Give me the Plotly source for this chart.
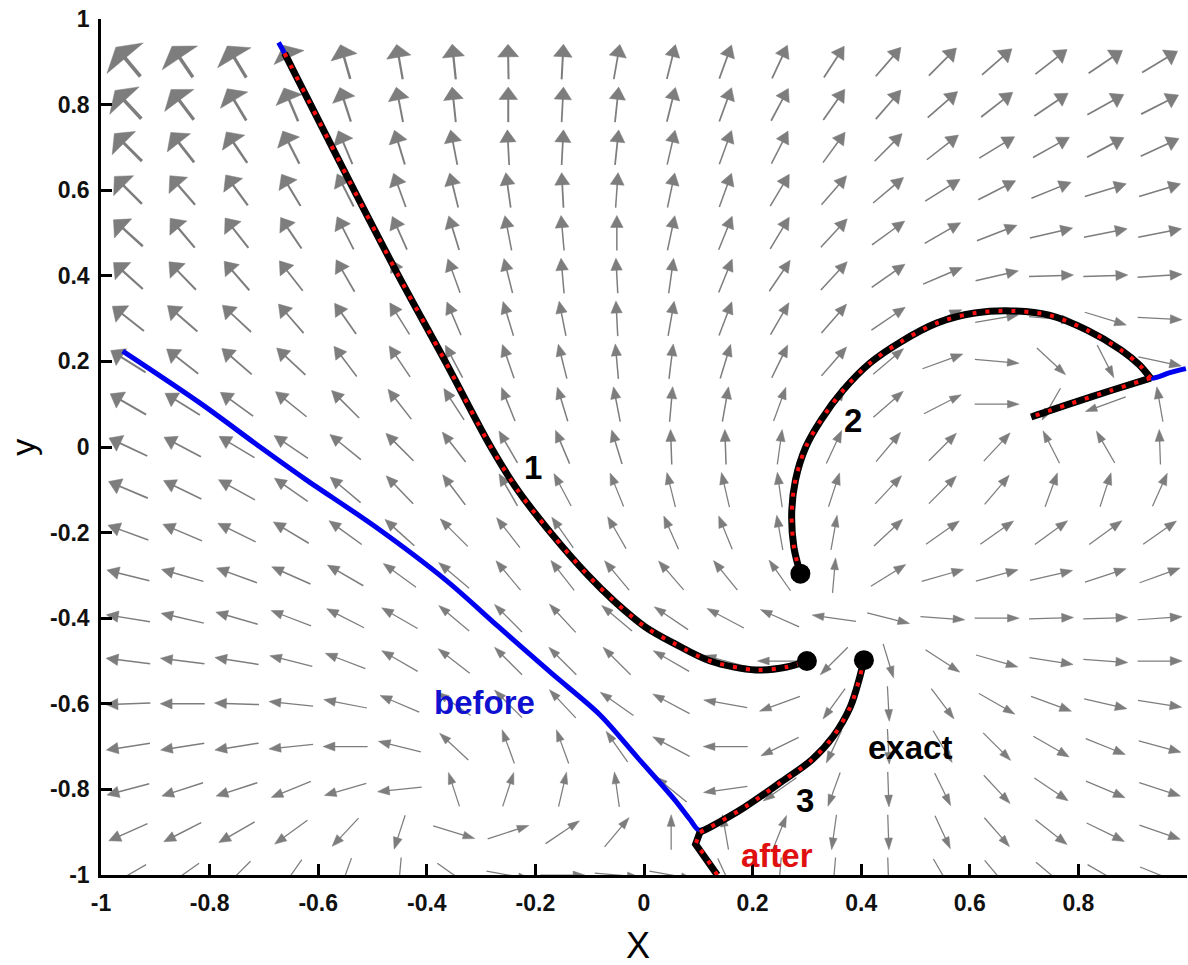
import numpy as np
import plotly.graph_objects as go

# ---------------- data ----------------
# vector-field grid (arrow centres)
x_centers = [-0.95, -0.85, -0.75, -0.65, -0.55, -0.45, -0.35, -0.25, -0.15, -0.05,
             0.05, 0.15, 0.25, 0.35, 0.45, 0.55, 0.65, 0.75, 0.85, 0.95]
y_centers = [0.9, 0.8, 0.7, 0.6, 0.5, 0.4, 0.3, 0.2, 0.1, 0.0,
             -0.1, -0.2, -0.3, -0.4, -0.5, -0.6, -0.7, -0.8, -0.9, -1.0]

# arrow direction (degrees, as seen on the chart), one row per y_center
angle_deg = [
    [130, 124, 121, 115, 106, 100, 96, 91, 87, 80, 76, 70, 65, 57, 49, 45, 41, 38, 34, 31],
    [133, 127, 121, 113, 108, 101, 96, 90, 87, 84, 76, 70, 62, 55, 49, 41, 38, 34, 29, 27],
    [135, 128, 124, 117, 113, 107, 101, 93, 87, 84, 77, 70, 63, 54, 45, 38, 31, 29, 28, 25],
    [135, 131, 126, 121, 117, 110, 104, 98, 93, 86, 78, 70, 59, 49, 40, 32, 27, 22, 17, 17],
    [138, 130, 128, 124, 117, 114, 107, 101, 95, 90, 78, 68, 59, 47, 36, 30, 21, 13, 11, 11],
    [138, 134, 131, 128, 120, 118, 110, 104, 95, 93, 82, 68, 56, 47, 35, 23, 13, 2, 2, 4],
    [142, 139, 137, 131, 125, 122, 113, 107, 101, 93, 80, 69, 60, 49, 34, 25, 10, -5, -17, -3],
    [148, 142, 139, 137, 127, 124, 118, 109, 104, 95, 83, 73, 64, 49, 40, 20, -5, -43, -63, -12],
    [150, 148, 144, 141, 135, 128, 123, 112, 107, 101, 85, 80, 70, 55, 41, 27, 0, 240, 200, 100],
    [155, 152, 149, 146, 141, 135, 128, 120, 113, 107, 92, 92, 82, 65, 50, 45, 47, 117, 120, 92],
    [157, 154, 151, 145, 140, 134, 127, 120, 118, 112, 104, 103, 98, 72, 47, 45, 50, 70, 72, 66],
    [160, 157, 154, 149, 144, 138, 135, 128, 125, 120, 114, 112, 100, 80, 43, 35, 35, 36, 36, 35],
    [166, 164, 160, 156, 150, 144, 140, 130, 128, 130, 131, 129, 125, 85, 32, 16, 15, 13, 18, 20],
    [171, 167, 164, 159, 153, 150, 140, 135, 133, 140, 146, 152, 156, 172, -14, -4, 0, 2, 2, 4],
    [173, 173, 171, 166, 159, 150, 142, 135, 135, 135, 150, 165, 180, 225, -73, -33, -16, -9, -4, 0],
    [182, 180, 178, 174, 169, 157, 145, 135, 133, 145, 152, 170, 200, 234, -87, -53, -30, -20, -13, -9],
    [189, 189, 189, 186, 180, 166, 137, 110, 110, 125, 152, 180, 206, 245, -87, -59, -45, -30, -22, -15],
    [195, 198, 198, 202, 196, 186, 108, 72, 77, 98, 141, 188, 215, 250, -88, -64, -47, -34, -23, -18],
    [204, 207, 210, 216, 227, 252, -17, 18, 34, 50, 90, 100, 68, 262, -88, -65, -49, -38, -26, -19],
    [210, 215, 225, 235, 250, 265, -35, -10, 0, -5, -10, -65, 265, 265, -88, -60, -50, -40, -30, -22],
]

# relative vector magnitude (drives arrow-head size / shaft weight)
magnitude = [
    [4.2, 3.8, 3.5, 3.0, 2.5, 2.3, 2.1, 2.0, 1.8, 1.7, 1.5, 1.5, 1.5, 1.5, 1.5, 1.6, 1.6, 1.6, 1.7, 1.7],
    [3.6, 3.3, 2.9, 2.6, 2.2, 2.0, 1.9, 1.8, 1.7, 1.6, 1.5, 1.5, 1.5, 1.5, 1.5, 1.5, 1.5, 1.5, 1.6, 1.6],
    [3.0, 2.7, 2.5, 2.3, 2.0, 1.8, 1.7, 1.6, 1.6, 1.5, 1.4, 1.4, 1.4, 1.4, 1.4, 1.4, 1.4, 1.4, 1.5, 1.5],
    [2.6, 2.3, 2.2, 2.0, 1.8, 1.7, 1.6, 1.5, 1.5, 1.4, 1.4, 1.4, 1.4, 1.3, 1.3, 1.3, 1.3, 1.3, 1.3, 1.3],
    [2.4, 2.1, 2.0, 1.8, 1.7, 1.6, 1.5, 1.4, 1.4, 1.3, 1.3, 1.3, 1.3, 1.3, 1.2, 1.2, 1.2, 1.2, 1.2, 1.2],
    [2.2, 2.0, 1.8, 1.7, 1.6, 1.4, 1.4, 1.3, 1.3, 1.2, 1.2, 1.2, 1.2, 1.2, 1.2, 1.1, 1.1, 1.1, 1.1, 1.1],
    [2.0, 1.8, 1.7, 1.6, 1.5, 1.4, 1.3, 1.2, 1.2, 1.2, 1.2, 1.2, 1.1, 1.1, 1.1, 1.1, 1.0, 1.0, 1.0, 1.0],
    [1.9, 1.7, 1.6, 1.5, 1.4, 1.3, 1.2, 1.2, 1.1, 1.1, 1.1, 1.1, 1.1, 1.1, 1.0, 1.0, 0.9, 0.9, 0.9, 1.0],
    [1.8, 1.6, 1.5, 1.4, 1.3, 1.2, 1.2, 1.1, 1.1, 1.1, 1.1, 1.1, 1.0, 1.0, 1.0, 0.9, 0.9, 0.9, 0.9, 1.0],
    [1.7, 1.5, 1.4, 1.3, 1.2, 1.2, 1.1, 1.1, 1.1, 1.1, 1.1, 1.1, 1.0, 1.0, 1.0, 1.0, 1.0, 0.9, 0.9, 1.0],
    [1.6, 1.4, 1.3, 1.2, 1.2, 1.1, 1.1, 1.1, 1.0, 1.0, 1.0, 1.0, 1.0, 1.0, 1.0, 1.0, 1.0, 1.0, 1.0, 1.0],
    [1.4, 1.3, 1.2, 1.2, 1.1, 1.1, 1.0, 1.0, 1.0, 1.0, 1.0, 1.0, 1.0, 0.9, 1.0, 1.0, 1.0, 1.0, 1.0, 1.0],
    [1.3, 1.2, 1.2, 1.1, 1.1, 1.0, 1.0, 1.0, 1.0, 1.0, 1.0, 1.0, 0.9, 0.9, 1.0, 1.0, 1.0, 1.0, 1.0, 1.0],
    [1.2, 1.1, 1.1, 1.0, 1.0, 1.0, 0.9, 0.9, 0.9, 0.9, 0.9, 0.9, 0.9, 0.9, 0.9, 0.9, 0.9, 1.0, 1.0, 1.0],
    [1.2, 1.1, 1.1, 1.0, 1.0, 1.0, 0.9, 0.9, 0.9, 0.9, 0.9, 0.9, 0.9, 0.9, 0.9, 0.9, 0.9, 1.0, 1.0, 1.0],
    [1.2, 1.1, 1.1, 1.0, 1.0, 1.0, 0.9, 0.9, 0.9, 0.9, 0.9, 0.9, 0.9, 0.9, 0.9, 0.9, 0.9, 1.0, 1.0, 1.0],
    [1.2, 1.1, 1.1, 1.0, 1.0, 1.0, 0.9, 0.9, 0.9, 0.9, 0.9, 0.9, 0.9, 0.9, 0.9, 0.9, 0.9, 1.0, 1.0, 1.0],
    [1.2, 1.1, 1.1, 1.0, 1.0, 1.0, 0.9, 0.9, 0.9, 0.9, 0.9, 0.9, 0.9, 0.9, 0.9, 0.9, 0.9, 1.0, 1.0, 1.0],
    [1.2, 1.1, 1.1, 1.0, 1.0, 1.0, 0.9, 0.9, 0.9, 0.9, 0.9, 0.9, 0.9, 0.9, 0.9, 0.9, 0.9, 1.0, 1.0, 1.0],
    [1.0, 1.0, 1.0, 0.9, 0.9, 0.9, 0.9, 0.9, 0.9, 0.9, 0.9, 0.9, 0.9, 0.9, 0.9, 0.9, 0.9, 0.9, 0.9, 0.9],
]

# trajectory 1 (exact / after)
traj1_x = [-0.662, -0.614, -0.534, -0.452, -0.366, -0.282, -0.233, -0.172, -0.103,
           -0.055, 0.002, 0.057, 0.122, 0.206, 0.263, 0.300]
traj1_y = [0.920, 0.800, 0.600, 0.400, 0.200, 0.000, -0.100, -0.200, -0.300,
           -0.360, -0.420, -0.460, -0.500, -0.521, -0.514, -0.500]
before1_x = [-0.673] + traj1_x
before1_y = [0.945] + traj1_y

# trajectory 2 (exact / after): arc, then the straight return leg
traj2_arc_x = [0.288, 0.276, 0.272, 0.279, 0.298, 0.326, 0.367, 0.416, 0.472, 0.540, 0.609,
               0.678, 0.746, 0.816, 0.878, 0.912, 0.933]
traj2_arc_y = [-0.296, -0.234, -0.154, -0.077, 0.000, 0.063, 0.133, 0.196, 0.245, 0.290, 0.313,
               0.318, 0.308, 0.273, 0.227, 0.192, 0.161]
traj2_leg_x = [0.933, 0.860, 0.780, 0.713]
traj2_leg_y = [0.161, 0.132, 0.099, 0.070]
before2_x = traj2_arc_x + [0.947, 0.967, 0.998]
before2_y = traj2_arc_y + [0.164, 0.173, 0.183]

# trajectory 3 (exact / after): short kinked start, then smooth curve
traj3_kink_x = [0.135, 0.109, 0.095, 0.103]
traj3_kink_y = [-1.000, -0.949, -0.928, -0.900]
traj3_curve_x = [0.103, 0.122, 0.186, 0.250, 0.309, 0.348, 0.380, 0.396, 0.405]
traj3_curve_y = [-0.900, -0.888, -0.841, -0.785, -0.731, -0.677, -0.607, -0.544, -0.498]
before3_x = [-0.960, -0.818, -0.707, -0.624, -0.494, -0.365, -0.267, -0.171, -0.081, -0.013,
             0.057, 0.085, 0.101] + traj3_curve_x[1:]
before3_y = [0.224, 0.103, 0.000, -0.075, -0.187, -0.311, -0.421, -0.528, -0.626, -0.724,
             -0.825, -0.871, -0.895] + traj3_curve_y[1:]

# end points
dots_x = [0.300, 0.405, 0.288]
dots_y = [-0.500, -0.498, -0.296]

tick_vals = [-1, -0.8, -0.6, -0.4, -0.2, 0, 0.2, 0.4, 0.6, 0.8, 1]
tick_text = ["-1", "-0.8", "-0.6", "-0.4", "-0.2", "0", "0.2", "0.4", "0.6", "0.8", "1"]

# ---------------- layout geometry ----------------
W, H = 1188, 965
ML, MR, MT, MB = 101, 1, 19, 90
XR = [-1, 1]
YR = [-1, 1]
px_x = (W - ML - MR) / (XR[1] - XR[0])   # pixels per x unit
px_y = (H - MT - MB) / (YR[1] - YR[0])   # pixels per y unit
ARROW_LEN = 0.082                         # drawn arrow length (data units)
GRAY = "#7d7d7d"

fig = go.Figure()

# ---------------- vector field ----------------
shaft_groups = {}
head_x, head_y = [], []
for i, yc in enumerate(y_centers):
    for j, xc in enumerate(x_centers):
        th = np.deg2rad(angle_deg[i][j])
        m = magnitude[i][j]
        ex, ey = np.cos(th), np.sin(th)            # on-screen direction
        du, dv = ex / px_x, ey / px_y
        n = np.hypot(du, dv)
        du, dv = du / n * ARROW_LEN, dv / n * ARROW_LEN
        tx, ty = xc - du / 2, yc - dv / 2
        hx, hy = xc + du / 2, yc + dv / 2
        hl = 11 + 0.8 * m            # head length (px)
        hw = (12.0 * m - 3.0) / 2    # head half width (px)
        bx = hx - ex * hl / px_x
        by = hy - ey * hl / px_y
        p1x, p1y = bx - ey * hw / px_x, by + ex * hw / px_y
        p2x, p2y = bx + ey * hw / px_x, by - ex * hw / px_y
        head_x += [hx, p1x, p2x, hx, None]
        head_y += [hy, p1y, p2y, hy, None]
        lw = round((0.5 + 0.8 * m) * 4) / 4
        sx = bx + ex * 1.5 / px_x
        sy = by + ey * 1.5 / px_y
        g = shaft_groups.setdefault(lw, ([], []))
        g[0].extend([tx, sx, None])
        g[1].extend([ty, sy, None])

for lw, (sx, sy) in sorted(shaft_groups.items()):
    fig.add_trace(go.Scatter(x=sx, y=sy, mode="lines", line=dict(color=GRAY, width=lw),
                             hoverinfo="skip", showlegend=False))
fig.add_trace(go.Scatter(x=head_x, y=head_y, mode="lines", fill="toself", fillcolor=GRAY,
                         line=dict(color=GRAY, width=0.5), hoverinfo="skip", showlegend=False))

# ---------------- trajectories ----------------
BLUE = "#0000f0"


def add_path(xs, ys, color, width, smooth, dash=None):
    line = dict(color=color, width=width)
    if smooth:
        line.update(shape="spline", smoothing=0.9)
    if dash:
        line["dash"] = dash
    fig.add_trace(go.Scatter(x=xs, y=ys, mode="lines", line=line, showlegend=False, hoverinfo="skip"))


for bx_, by_ in [(before1_x, before1_y), (before2_x, before2_y), (before3_x, before3_y)]:
    add_path(bx_, by_, BLUE, 5, True)

segments = [(traj1_x, traj1_y, True), (traj2_arc_x, traj2_arc_y, True), (traj2_leg_x, traj2_leg_y, True),
            (traj3_kink_x, traj3_kink_y, False), (traj3_curve_x, traj3_curve_y, True)]
for xs, ys, sm in segments:
    add_path(xs, ys, "black", 7, sm)
for xs, ys, sm in segments:
    add_path(xs, ys, "#ff1010", 4, sm, dash="4px,9px")

fig.add_trace(go.Scatter(x=dots_x, y=dots_y, mode="markers",
                         marker=dict(color="black", size=20), showlegend=False, hoverinfo="skip"))

# ---------------- labels ----------------
LBL = "Liberation Sans, Arial, Helvetica, sans-serif"
labels = [
    ("1", -0.204, -0.047, "black"),
    ("2", 0.385, 0.063, "black"),
    ("3", 0.297, -0.825, "black"),
    ("exact", 0.490, -0.703, "black"),
    ("before", -0.293, -0.597, "#1010d0"),
    ("after", 0.245, -0.955, "#e01010"),
]
for txt, lx, ly, col in labels:
    fig.add_annotation(x=lx, y=ly, xref="x", yref="y", text="<b>%s</b>" % txt, showarrow=False,
                       font=dict(family=LBL, size=33, color=col), xanchor="center", yanchor="middle")

fig.add_annotation(x=-0.011, y=-0.082, xref="x", yref="paper", text="X", showarrow=False,
                   font=dict(family=LBL, size=36, color="black"), xanchor="center", yanchor="middle")
fig.add_annotation(x=-0.072, y=0.0, xref="paper", yref="y", text="y", showarrow=False, textangle=-90,
                   font=dict(family=LBL, size=34, color="black"), xanchor="center", yanchor="middle")

axis_common = dict(showgrid=False, zeroline=False, showline=True, linecolor="black", linewidth=2.5,
                   ticks="inside", ticklen=11, tickwidth=2.5, tickcolor="black", mirror=False,
                   tickvals=tick_vals, ticktext=tick_text,
                   tickfont=dict(family=LBL, size=23, color="#111111", weight="bold"))
fig.update_layout(
    width=W, height=H,
    margin=dict(l=ML, r=MR, t=MT, b=MB),
    paper_bgcolor="white", plot_bgcolor="white",
    xaxis=dict(range=XR, ticklabelstandoff=6, **axis_common),
    yaxis=dict(range=YR, ticklabelstandoff=4, **axis_common),
    showlegend=False,
)

fig.write_html("out.html")
